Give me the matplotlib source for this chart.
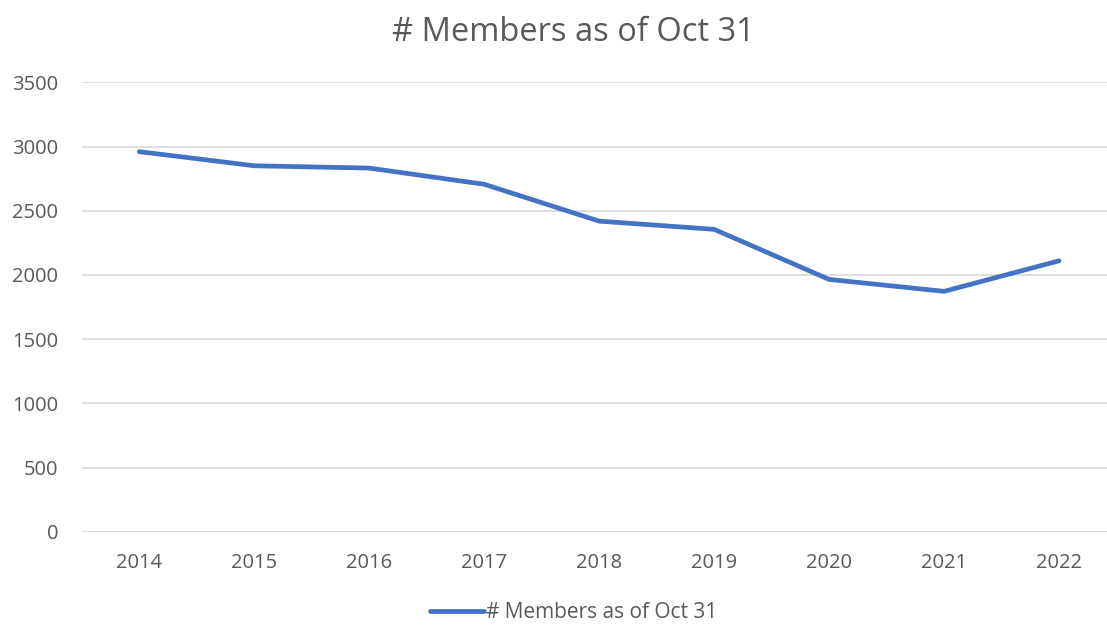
import matplotlib
matplotlib.use("Agg")
import matplotlib.pyplot as plt

plt.rcParams['font.family'] = ['Open Sans', 'DejaVu Sans']

years = ['2014', '2015', '2016', '2017', '2018', '2019', '2020', '2021', '2022']
members = [2960, 2850, 2832, 2706, 2419, 2355, 1965, 1872, 2110]
yticks = [0, 500, 1000, 1500, 2000, 2500, 3000, 3500]

text_color = '#595959'
line_color = '#4472C4'
grid_color = '#D9D9D9'

fig = plt.figure(figsize=(11.07, 6.26), dpi=100)
# axes runs a little past the right edge, as in the cropped original
ax = fig.add_axes([0.0739, 0.1506, 0.9347, 0.7179])

x = list(range(len(years)))
ax.plot(x, members, color=line_color, linewidth=3.4, solid_capstyle='round',
        solid_joinstyle='round', label='# Members as of Oct 31')

ax.set_xlim(-0.5, len(years) - 0.5)
ax.set_ylim(0, 3500)
ax.set_xticks(x)
ax.set_xticklabels(years)
ax.set_yticks(yticks)
ax.yaxis.grid(True, color=grid_color, linewidth=1.2)
ax.set_axisbelow(True)
for s in ax.spines.values():
    s.set_visible(False)
ax.tick_params(axis='both', length=0, labelsize=14.5, colors=text_color)
ax.tick_params(axis='x', pad=15)
ax.tick_params(axis='y', pad=17)

fig.suptitle('# Members as of Oct 31', x=0.518, y=0.975, fontsize=23.5, color=text_color)

leg = fig.legend(loc='center', bbox_to_anchor=(0.518, 0.021), frameon=False,
                 fontsize=15, handlelength=2.6, handletextpad=0.1)
for t in leg.get_texts():
    t.set_color(text_color)

fig.savefig('out.png', dpi=100)
